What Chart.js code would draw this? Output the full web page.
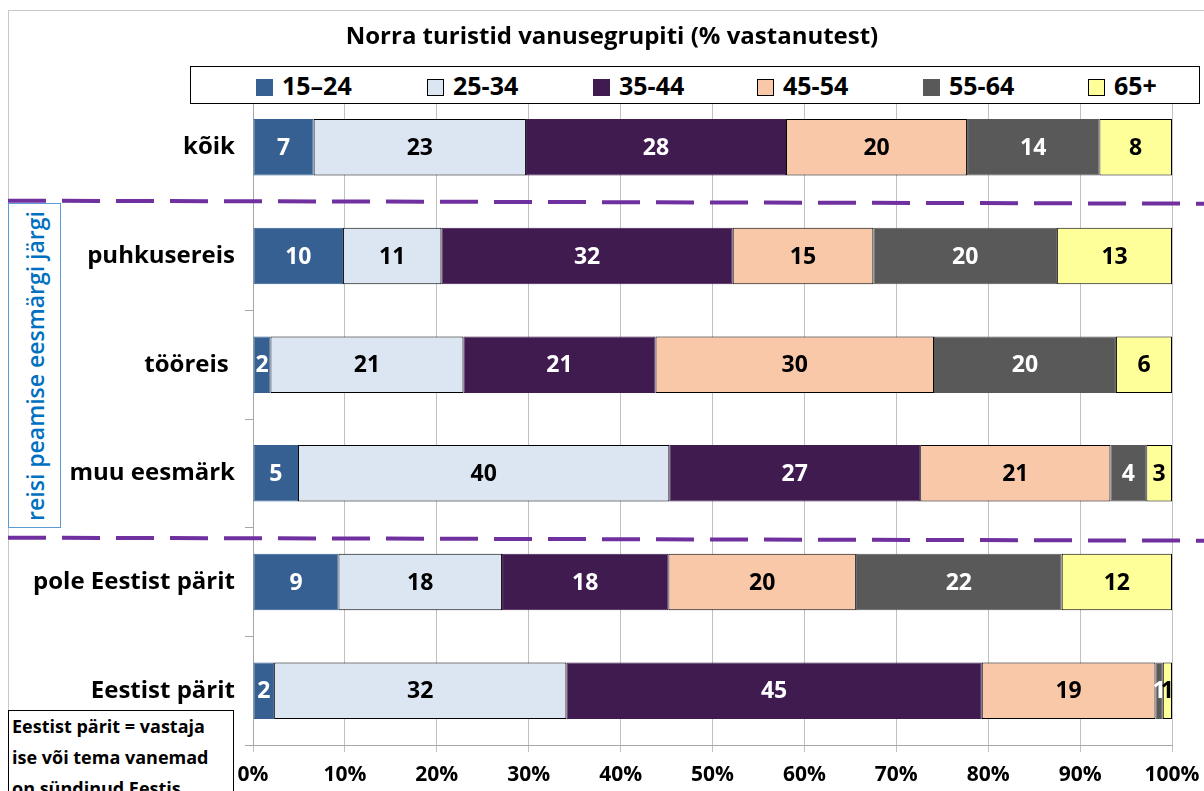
<!DOCTYPE html>
<html>
<head>
<meta charset="utf-8">
<script src="https://cdn.jsdelivr.net/npm/chart.js@4.4.1/dist/chart.umd.min.js"></script>
<style>
  body { margin: 0; background: #fff; font-family: "Open Sans", sans-serif; }
  #wrap { position: relative; width: 1204px; height: 791px; overflow: hidden; }
  #frame { position: absolute; left: 8px; top: 10px; width: 1300px; height: 900px;
           border-top: 1px solid #c8c8c8; border-left: 1px solid #c8c8c8; }
  canvas { position: absolute; left: 0; top: 0; }
  #title { position: absolute; left: 0; width: 1224px; top: 18px; text-align: center;
           font-weight: bold; font-size: 24px; line-height: 33px; color: #000; }
  #legend { position: absolute; left: 190px; top: 66px; width: 1008px; height: 36px;
            border: 1.5px solid #000; background: #fff; }
  .li { position: absolute; top: 2px; font-weight: bold; font-size: 25px; line-height: 32px; white-space: nowrap; }
  .li span { display: inline-block; width: 15px; height: 15px; margin-right: 9px; vertical-align: -1px; }
  #side { position: absolute; left: 8px; top: 203px; width: 51px; height: 323px;
          border: 1px solid #5b9bd5; background: #fff; }
  #side div { position: absolute; left: 50%; top: 50%; white-space: nowrap;
              transform: translate(-50%, -50%) rotate(-90deg);
              color: #0070c0; font-weight: 600; font-size: 23px; }
  #note { position: absolute; left: 8px; top: 710px; width: 226px; height: 120px;
          border: 1px solid #000; background: #fff; font-weight: bold; font-size: 18px;
          line-height: 31px; padding: 0 0 0 3px; box-sizing: border-box; white-space: nowrap; }
</style>
</head>
<body>
<div id="wrap">
  <div id="frame"></div>
  <canvas id="myChart" width="1204" height="791"></canvas>
  <div id="title">Norra turistid vanusegrupiti (% vastanutest)</div>
  <div id="legend"></div>
  <div id="side"><div>reisi peamise eesmärgi järgi</div></div>
  <div id="note">Eestist pärit = vastaja<br>ise või tema vanemad<br>on sündinud Eestis</div>
</div>
<script>
// Data
const categories = ['kõik', 'puhkusereis', 'tööreis ', 'muu eesmärk', 'pole Eestist pärit', 'Eestist pärit'];
const ageGroups = ['15–24', '25-34', '35-44', '45-54', '55-64', '65+'];
const age15_24 = [6.6, 9.8, 1.9, 4.9, 9.3, 2.3];
const age25_34 = [23.1, 10.7, 21.0, 40.4, 17.8, 31.8];
const age35_44 = [28.3, 31.7, 20.9, 27.3, 18.1, 45.2];
const age45_54 = [19.7, 15.3, 30.3, 20.7, 20.4, 18.9];
const age55_64 = [14.4, 20.0, 19.8, 3.9, 22.4, 0.8];
const age65plus = [7.9, 12.5, 6.1, 2.8, 12.0, 1.0];
const xTicks = [0, 10, 20, 30, 40, 50, 60, 70, 80, 90, 100];

const seriesValues = [age15_24, age25_34, age35_44, age45_54, age55_64, age65plus];
const fills = ['#376092', '#dce6f2', '#3f1b50', '#f9c8a8', '#595959', '#ffff99'];
const borders = ['#376092', '#000000', '#3f1b50', '#000000', '#595959', '#000000'];
const labelColors = ['#fff', '#000', '#fff', '#000', '#fff', '#000'];
// legend item left edges inside the page
const legendX = [256, 427, 593, 757, 923, 1088];

// Legend (HTML)
const legendEl = document.getElementById('legend');
ageGroups.forEach(function(name, i){
    const item = document.createElement('div');
    item.className = 'li';
    item.style.left = (legendX[i] - 191) + 'px';
    const box = document.createElement('span');
    box.style.background = fills[i];
    box.style.border = '1px solid ' + (borders[i] === '#000000' ? '#000' : fills[i]);
    item.appendChild(box);
    item.appendChild(document.createTextNode(name));
    legendEl.appendChild(item);
});

// Segment labels
const segmentLabels = {
    id: 'segmentLabels',
    afterDatasetsDraw(chart) {
        const ctx = chart.ctx;
        ctx.save();
        ctx.font = 'bold 23px "Open Sans"';
        ctx.textAlign = 'center';
        ctx.textBaseline = 'middle';
        chart.data.datasets.forEach(function(ds, i){
            chart.getDatasetMeta(i).data.forEach(function(bar, j){
                const p = bar.getCenterPoint();
                ctx.fillStyle = labelColors[i];
                ctx.fillText(Math.round(ds.data[j]), p.x, p.y + 1);
            });
        });
        ctx.restore();
    }
};

// Purple dashed separators (second one sits a bit below the category boundary)
const separators = {
    id: 'separators',
    afterDraw(chart) {
        const ctx = chart.ctx;
        const y = chart.scales.y;
        ctx.save();
        ctx.strokeStyle = '#7030a0';
        ctx.lineWidth = 4;
        ctx.setLineDash([38, 16]);
        [[0.5, 0], [3.5, 11]].forEach(function(s){
            const py = y.getPixelForValue(s[0]) + s[1];
            ctx.beginPath();
            ctx.moveTo(8, py - 1);
            ctx.lineTo(1204, py + 2);
            ctx.stroke();
        });
        ctx.restore();
    }
};

Chart.defaults.font.family = '"Open Sans"';

new Chart(document.getElementById('myChart'), {
    type: 'bar',
    data: {
        labels: categories,
        datasets: seriesValues.map(function(vals, i){
            return {
                label: ageGroups[i],
                data: vals,
                backgroundColor: fills[i],
                borderColor: borders[i],
                borderWidth: 1,
                borderSkipped: false,
                barPercentage: 0.52,
                categoryPercentage: 1
            };
        })
    },
    options: {
        indexAxis: 'y',
        responsive: false,
        animation: false,
        devicePixelRatio: 1,
        layout: { padding: { top: 93, right: 32, left: 0, bottom: 0 } },
        plugins: {
            legend: { display: false },
            title: { display: false },
            tooltip: { enabled: false }
        },
        scales: {
            x: {
                stacked: true,
                min: 0,
                max: 100,
                afterBuildTicks: function(scale){
                    scale.ticks = xTicks.map(function(v){ return { value: v }; });
                },
                afterFit: function(scale){
                    scale.height = 46;
                    scale.paddingRight = 0;
                    scale.paddingLeft = 0;
                },
                ticks: {
                    color: '#000',
                    font: { size: 21, weight: 'bold' },
                    padding: 10,
                    callback: function(v){ return v + '%'; }
                },
                grid: { color: '#c0c0c0', tickLength: 7 },
                border: { color: '#a6a6a6' }
            },
            y: {
                stacked: true,
                afterFit: function(scale){ scale.width = 253; },
                ticks: {
                    color: '#000',
                    font: { size: 24, weight: 'bold' },
                    padding: 10
                },
                grid: { drawOnChartArea: false, color: '#a6a6a6', tickLength: 8 },
                border: { color: '#a6a6a6' }
            }
        }
    },
    plugins: [segmentLabels, separators]
});
</script>
</body>
</html>
